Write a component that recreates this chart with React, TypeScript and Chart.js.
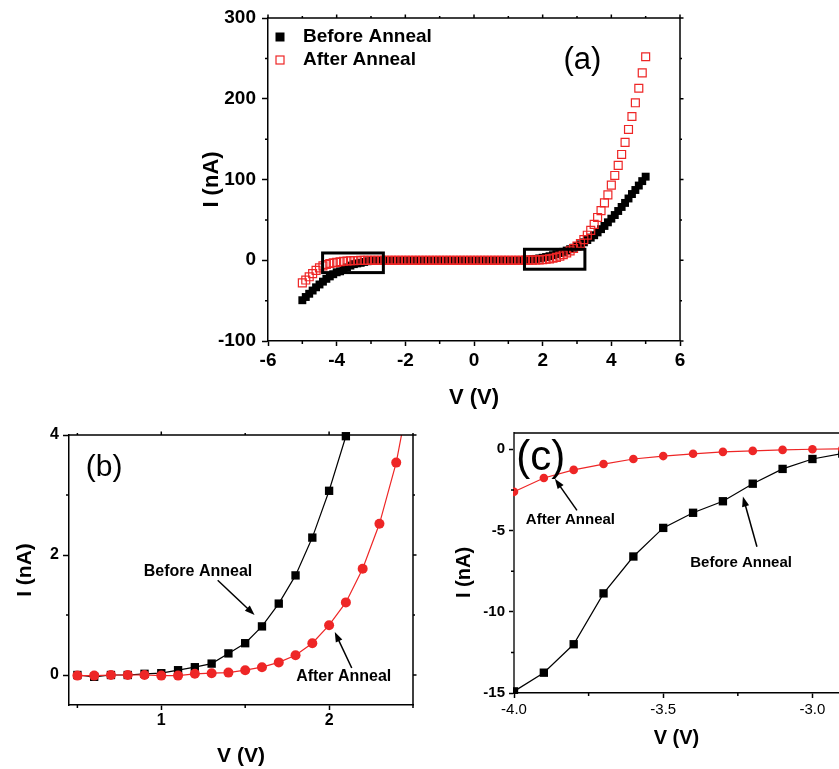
import React, { useEffect, useRef } from "react";
import { Chart, registerables } from "chart.js";

Chart.register(...registerables);

const FONT = "'Liberation Sans', Arial, Helvetica, sans-serif";
const RED = "#ee2626";

// ---------- Panel (a): full sweep ----------
const voltageA = [
  -5.0, -4.9, -4.8, -4.7, -4.6, -4.5, -4.4, -4.3, -4.2, -4.1,
  -4.0, -3.9, -3.8, -3.7, -3.6, -3.5, -3.4, -3.3, -3.2, -3.1,
  -3.0, -2.9, -2.8, -2.7, -2.6, -2.5, -2.4, -2.3, -2.2, -2.1,
  -2.0, -1.9, -1.8, -1.7, -1.6, -1.5, -1.4, -1.3, -1.2, -1.1,
  -1.0, -0.9, -0.8, -0.7, -0.6, -0.5, -0.4, -0.3, -0.2, -0.1,
  0.0, 0.1, 0.2, 0.3, 0.4, 0.5, 0.6, 0.7, 0.8, 0.9,
  1.0, 1.1, 1.2, 1.3, 1.4, 1.5, 1.6, 1.7, 1.8, 1.9,
  2.0, 2.1, 2.2, 2.3, 2.4, 2.5, 2.6, 2.7, 2.8, 2.9,
  3.0, 3.1, 3.2, 3.3, 3.4, 3.5, 3.6, 3.7, 3.8, 3.9,
  4.0, 4.1, 4.2, 4.3, 4.4, 4.5, 4.6, 4.7, 4.8, 4.9,
  5.0,
];
const beforeA = [
  -49.5, -45.5, -41.5, -37.5, -33.5, -30.0, -26.5, -23.0, -20.0, -17.3,
  -14.9, -13.7, -12.0, -8.9, -6.6, -4.8, -3.9, -3.2, -2.1, -1.2,
  -0.6, -0.3, -0.2, -0.15, -0.12, -0.1, -0.08, -0.07, -0.06, -0.05,
  -0.05, -0.04, -0.04, -0.03, -0.03, -0.03, -0.02, -0.02, -0.02, -0.02,
  -0.01, -0.01, -0.01, -0.01, -0.01, -0.01, 0, 0, 0, 0,
  0, 0, 0, 0, 0.01, 0, -0.03, 0, 0, 0.02,
  0.03, 0.08, 0.13, 0.19, 0.36, 0.53, 0.81, 1.19, 1.66, 2.29,
  3.07, 3.98, 5.0, 6.2, 7.5, 8.9, 10.4, 12.0, 13.7, 15.5,
  17.5, 19.7, 22.2, 25.0, 28.0, 31.0, 34.5, 38.5, 42.5, 47.0,
  51.5, 56.0, 61.0, 66.0, 71.0, 76.5, 82.0, 87.0, 92.5, 98.0,
  103.5,
];
const afterA = [
  -28.0, -24.5, -20.5, -16.5, -12.5, -9.5, -7.0, -5.2, -4.0, -3.2,
  -2.6, -1.8, -1.3, -0.9, -0.6, -0.4, -0.3, -0.16, -0.1, -0.04,
  0, 0.02, 0, 0, 0, 0, 0, 0, 0, 0,
  0, 0, 0, 0, 0, 0, 0, 0, 0, 0,
  0, 0, 0, 0, 0, 0, 0, 0, 0, 0,
  0, 0, 0, 0, 0, -0.01, -0.01, 0, 0, 0,
  -0.01, -0.01, 0.02, 0.03, 0.04, 0.08, 0.13, 0.21, 0.33, 0.53,
  0.83, 1.21, 1.77, 2.52, 3.54, 5.0, 6.8, 9.0, 11.6, 14.5,
  17.5, 20.8, 25.5, 31.0, 37.0, 44.5, 53.0, 61.5, 71.0, 81.0,
  93.0, 105.0, 117.5, 131.0, 146.0, 162.0, 178.0, 195.0, 213.0, 232.0,
  252.0,
];
const xTicksA = [-6, -4, -2, 0, 2, 4, 6];
const yTicksA = [-100, 0, 100, 200, 300];
const xMinorA = [-5, -3, -1, 1, 3, 5];
const yMinorA = [-50, 50, 150, 250];
const boxesA = [
  [-4.41, -2.64, -15.3, 9.0],
  [1.47, 3.23, -11.1, 13.6],
];
const legendA = ["Before Anneal", "After Anneal"];
const labelA = { text: "(a)", v: 3.16, i: 247.7 };

// ---------- Panel (b): forward bias zoom ----------
const voltageB = [0.5, 0.6, 0.7, 0.8, 0.9, 1.0, 1.1, 1.2, 1.3, 1.4, 1.5, 1.6, 1.7, 1.8, 1.9, 2.0, 2.1, 2.2, 2.3, 2.4, 2.5];
const beforeB = [0, -0.03, 0, 0, 0.02, 0.03, 0.08, 0.13, 0.19, 0.36, 0.53, 0.81, 1.19, 1.66, 2.29, 3.07, 3.98];
const afterB = [-0.01, -0.01, 0, 0, 0, -0.01, -0.01, 0.02, 0.03, 0.04, 0.08, 0.13, 0.21, 0.33, 0.53, 0.83, 1.21, 1.77, 2.52, 3.54, 5.0];
const xTicksB = [1, 2];
const yTicksB = [0, 2, 4];
const xMinorB = [0.5, 1.5, 2.5];
const yMinorB = [1, 3];
const textB = [
  { text: "Before Anneal", v: 1.219, i: 1.72 },
  { text: "After Anneal", v: 2.087, i: -0.03 },
];
const arrowsB = [
  [1.336, 1.58, 1.556, 1.0],
  [2.135, 0.117, 2.034, 0.717],
];
const labelB = { text: "(b)", v: 0.659, i: 3.45 };

// ---------- Panel (c): reverse bias zoom ----------
const voltageC = [-4.0, -3.9, -3.8, -3.7, -3.6, -3.5, -3.4, -3.3, -3.2, -3.1, -3.0, -2.9];
const beforeC = [-14.9, -13.75, -12.0, -8.87, -6.6, -4.84, -3.91, -3.2, -2.12, -1.21, -0.6, -0.26];
const afterC = [-2.62, -1.77, -1.27, -0.91, -0.6, -0.42, -0.28, -0.16, -0.1, -0.04, 0, 0.02];
const xTicksC = [-4.0, -3.5, -3.0];
const yTicksC = [0, -5, -10, -15];
const xMinorC = [-3.75, -3.25];
const yMinorC = [-2.5, -7.5, -12.5];
const textC = [
  { text: "After Anneal", v: -3.811, i: -4.36 },
  { text: "Before Anneal", v: -3.239, i: -6.97 },
];
const arrowsC = [
  [-3.789, -3.76, -3.863, -1.82],
  [-3.186, -6.0, -3.233, -2.91],
];
const labelC = { text: "(c)", v: -3.91, i: -0.54 };

// ---------- helpers ----------
const pts = (xs: number[], ys: number[]) => ys.map((y, k) => ({ x: xs[k], y }));
const fnt = (size: number, bold = true) => ({ family: FONT, size, weight: bold ? "bold" : "normal" });

function linAxis(p: any) {
  return {
    type: "linear",
    min: p.min,
    max: p.max,
    afterBuildTicks: (s: any) => {
      s.ticks = p.values.map((v: number) => ({ value: v }));
    },
    afterFit: (s: any) => {
      s[p.fitKey] = p.fit;
    },
    ticks: {
      font: p.font,
      color: "#000",
      padding: p.padding,
      autoSkip: false,
      maxRotation: 0,
      minRotation: 0,
      ...(p.callback ? { callback: p.callback } : {}),
    },
    grid: { drawOnChartArea: false, drawTicks: true, tickLength: p.tickLength, tickWidth: 1.5, tickColor: "#000" },
    border: { display: true, color: p.borderColor || "#000", width: p.borderWidth || 1.5 },
    title: p.title
      ? { display: true, text: p.title, color: "#000", font: fnt(p.titleSize), padding: p.titlePad }
      : { display: false },
  };
}

function arrow(ctx: any, x1: number, y1: number, x2: number, y2: number) {
  const len = 10, half = 3.6;
  const ang = Math.atan2(y2 - y1, x2 - x1);
  const c = Math.cos(ang), s = Math.sin(ang);
  ctx.beginPath();
  ctx.moveTo(x1, y1);
  ctx.lineTo(x2 - c * len * 0.7, y2 - s * len * 0.7);
  ctx.stroke();
  ctx.beginPath();
  ctx.moveTo(x2, y2);
  ctx.lineTo(x2 - len * c + half * s, y2 - len * s - half * c);
  ctx.lineTo(x2 - len * c - half * s, y2 - len * s + half * c);
  ctx.closePath();
  ctx.fill();
}

function decoPlugin(cfg: any) {
  return {
    id: "deco",
    afterDatasetsDraw(chart: any) {
      const { ctx, chartArea: a, scales } = chart;
      const xs = scales.x, ys = scales.y;
      ctx.save();
      ctx.strokeStyle = "#000";
      ctx.fillStyle = "#000";
      ctx.lineWidth = 1.5;
      ctx.beginPath();
      if (cfg.top) {
        ctx.moveTo(a.left, a.top);
        ctx.lineTo(a.right, a.top);
      }
      if (cfg.right) {
        ctx.moveTo(a.right, a.top);
        ctx.lineTo(a.right, a.bottom);
      }
      for (const v of cfg.minorX) {
        const p = xs.getPixelForValue(v);
        ctx.moveTo(p, a.bottom);
        ctx.lineTo(p, a.bottom + 3);
        if (cfg.topTicks) {
          ctx.moveTo(p, a.top);
          ctx.lineTo(p, a.top - 2);
        }
      }
      for (const v of cfg.minorY) {
        const p = ys.getPixelForValue(v);
        ctx.moveTo(a.left - 3, p);
        ctx.lineTo(a.left, p);
        if (cfg.rightTicks) {
          ctx.moveTo(a.right, p);
          ctx.lineTo(a.right + 2, p);
        }
      }
      if (cfg.topTicks) {
        for (const v of cfg.majorX) {
          const p = xs.getPixelForValue(v);
          ctx.moveTo(p, a.top);
          ctx.lineTo(p, a.top - 3.5);
        }
      }
      if (cfg.rightTicks) {
        for (const v of cfg.majorY) {
          const p = ys.getPixelForValue(v);
          ctx.moveTo(a.right, p);
          ctx.lineTo(a.right + 3.5, p);
        }
      }
      ctx.stroke();
      if (cfg.extra) cfg.extra(ctx, xs, ys, a);
      ctx.restore();
    },
  };
}

function drawNotes(ctx: any, xs: any, ys: any, notes: any[], arrows: number[][], size: number) {
  ctx.fillStyle = "#000";
  ctx.strokeStyle = "#000";
  ctx.font = `bold ${size}px ${FONT}`;
  ctx.textAlign = "center";
  ctx.textBaseline = "middle";
  for (const n of notes) ctx.fillText(n.text, xs.getPixelForValue(n.v), ys.getPixelForValue(n.i));
  ctx.lineWidth = 1.5;
  for (const [v1, i1, v2, i2] of arrows) {
    arrow(ctx, xs.getPixelForValue(v1), ys.getPixelForValue(i1), xs.getPixelForValue(v2), ys.getPixelForValue(i2));
  }
}

function configA(): any {
  return {
    type: "scatter",
    data: {
      datasets: [
        {
          label: legendA[1],
          data: pts(voltageA, afterA),
          showLine: false,
          pointStyle: "rect",
          pointRadius: 5.6,
          pointBackgroundColor: "rgba(0,0,0,0)",
          pointBorderColor: RED,
          pointBorderWidth: 1.2,
          order: 0,
        },
        {
          label: legendA[0],
          data: pts(voltageA, beforeA),
          showLine: false,
          pointStyle: "rect",
          pointRadius: 5.6,
          pointBackgroundColor: "#000",
          pointBorderColor: "#000",
          pointBorderWidth: 0,
          order: 1,
        },
      ],
    },
    options: {
      animation: false,
      responsive: false,
      events: [],
      layout: { autoPadding: false, padding: { left: 0, top: 18, right: 20, bottom: 0 } },
      plugins: { legend: { display: false }, tooltip: { enabled: false } },
      scales: {
        x: linAxis({
          min: -6, max: 6, values: xTicksA, fitKey: "height", fit: 79, font: fnt(19), tickLength: 5, padding: 3,
          title: "V (V)", titleSize: 22, titlePad: { top: 0, bottom: 8.8 },
        }),
        y: linAxis({
          min: -100, max: 300, values: yTicksA, fitKey: "width", fit: 268, font: fnt(19), tickLength: 6, padding: 6,
          title: "I (nA)", titleSize: 22, titlePad: { top: 198.8, bottom: 0 },
        }),
      },
    },
    plugins: [
      decoPlugin({
        top: true, right: true, topTicks: true, rightTicks: true,
        minorX: xMinorA, minorY: yMinorA, majorX: xTicksA, majorY: yTicksA,
        extra: (ctx: any, xs: any, ys: any, a: any) => {
          ctx.lineWidth = 3;
          ctx.strokeStyle = "#000";
          for (const [v0, v1, i0, i1] of boxesA) {
            const x0 = xs.getPixelForValue(v0), x1 = xs.getPixelForValue(v1);
            const y0 = ys.getPixelForValue(i1), y1 = ys.getPixelForValue(i0);
            ctx.strokeRect(x0, y0, x1 - x0, y1 - y0);
          }
          const lx = a.left + 12, ly = a.top + 19;
          ctx.fillStyle = "#000";
          ctx.fillRect(lx - 4.5, ly - 4.5, 9, 9);
          ctx.strokeStyle = RED;
          ctx.lineWidth = 1.2;
          ctx.strokeRect(lx - 4, ly + 23 - 4, 8, 8);
          ctx.font = `bold 19px ${FONT}`;
          ctx.textAlign = "left";
          ctx.textBaseline = "middle";
          ctx.fillText(legendA[0], a.left + 35, ly);
          ctx.fillText(legendA[1], a.left + 35, ly + 23);
          ctx.font = `31px ${FONT}`;
          ctx.textAlign = "center";
          ctx.fillText(labelA.text, xs.getPixelForValue(labelA.v), ys.getPixelForValue(labelA.i));
        },
      }),
    ],
  };
}

function configB(): any {
  return {
    type: "scatter",
    data: {
      datasets: [
        {
          label: "Before Anneal",
          data: pts(voltageB, beforeB),
          showLine: true,
          borderColor: "#000",
          borderWidth: 1.2,
          pointStyle: "rect",
          pointRadius: 5.9,
          pointBackgroundColor: "#000",
          pointBorderWidth: 0,
          clip: 5,
          order: 1,
        },
        {
          label: "After Anneal",
          data: pts(voltageB, afterB),
          showLine: true,
          borderColor: RED,
          borderWidth: 1.2,
          pointStyle: "circle",
          pointRadius: 5,
          pointBackgroundColor: RED,
          pointBorderWidth: 0,
          clip: 0,
          order: 0,
        },
      ],
    },
    options: {
      animation: false,
      responsive: false,
      events: [],
      layout: { autoPadding: false, padding: { left: 0, top: 15, right: 17, bottom: 0 } },
      plugins: { legend: { display: false }, tooltip: { enabled: false } },
      scales: {
        x: linAxis({
          min: 0.45, max: 2.5, values: xTicksB, fitKey: "height", fit: 64, font: fnt(16), tickLength: 5, padding: 1,
          title: "V (V)", titleSize: 21, titlePad: { top: 0, bottom: 0 },
        }),
        y: linAxis({
          min: -0.5, max: 4, values: yTicksB, fitKey: "width", fit: 69, font: fnt(16), tickLength: 6, padding: 4,
          title: "I (nA)", titleSize: 21, titlePad: { top: 12.4, bottom: 0 },
        }),
      },
    },
    plugins: [
      decoPlugin({
        top: true, right: true, topTicks: true, rightTicks: true,
        minorX: xMinorB, minorY: yMinorB, majorX: xTicksB, majorY: yTicksB,
        extra: (ctx: any, xs: any, ys: any) => {
          drawNotes(ctx, xs, ys, textB, arrowsB, 16);
          ctx.font = `30px ${FONT}`;
          ctx.textAlign = "center";
          ctx.fillText(labelB.text, xs.getPixelForValue(labelB.v), ys.getPixelForValue(labelB.i));
        },
      }),
    ],
  };
}

function configC(): any {
  return {
    type: "scatter",
    data: {
      datasets: [
        {
          label: "Before Anneal",
          data: pts(voltageC, beforeC),
          showLine: true,
          borderColor: "#000",
          borderWidth: 1.2,
          pointStyle: "rect",
          pointRadius: 5.9,
          pointBackgroundColor: "#000",
          pointBorderWidth: 0,
          clip: 1,
          order: 1,
        },
        {
          label: "After Anneal",
          data: pts(voltageC, afterC),
          showLine: true,
          borderColor: RED,
          borderWidth: 1.2,
          pointStyle: "circle",
          pointRadius: 4.3,
          pointBackgroundColor: RED,
          pointBorderWidth: 0,
          clip: 1,
          order: 0,
        },
      ],
    },
    options: {
      animation: false,
      responsive: false,
      events: [],
      layout: { autoPadding: false, padding: { left: 0, top: 8, right: 0, bottom: 0 } },
      plugins: { legend: { display: false }, tooltip: { enabled: false } },
      scales: {
        x: linAxis({
          min: -4.0, max: -2.911, values: xTicksC, fitKey: "height", fit: 76, font: fnt(15, false), tickLength: 5, padding: 3,
          callback: (v: any) => Number(v).toFixed(1),
          title: "V (V)", titleSize: 20, titlePad: { top: 0, bottom: 19 },
        }),
        y: linAxis({
          min: -15, max: 1, values: yTicksC, fitKey: "width", fit: 74, font: fnt(15), tickLength: 5, padding: 4,
          borderColor: "#555", borderWidth: 2,
        }),
      },
    },
    plugins: [
      decoPlugin({
        top: true, right: false, topTicks: false, rightTicks: false,
        minorX: xMinorC, minorY: yMinorC, majorX: xTicksC, majorY: yTicksC,
        extra: (ctx: any, xs: any, ys: any) => {
          drawNotes(ctx, xs, ys, textC, arrowsC, 15);
          ctx.font = `42px ${FONT}`;
          ctx.textAlign = "center";
          ctx.textBaseline = "middle";
          ctx.fillText(labelC.text, xs.getPixelForValue(labelC.v), ys.getPixelForValue(labelC.i));
          ctx.save();
          ctx.translate(24, 152.5);
          ctx.rotate(-Math.PI / 2);
          ctx.font = `bold 20px ${FONT}`;
          ctx.fillText("I (nA)", 0, 0);
          ctx.restore();
        },
      }),
    ],
  };
}

export default function App() {
  const refA = useRef<HTMLCanvasElement>(null);
  const refB = useRef<HTMLCanvasElement>(null);
  const refC = useRef<HTMLCanvasElement>(null);

  useEffect(() => {
    const charts = [
      new Chart(refA.current as HTMLCanvasElement, configA()),
      new Chart(refB.current as HTMLCanvasElement, configB()),
      new Chart(refC.current as HTMLCanvasElement, configC()),
    ];
    return () => charts.forEach((c) => c.destroy());
  }, []);

  return (
    <div style={{ position: "absolute", left: 0, top: 0, width: 839, height: 769, overflow: "hidden", background: "#fff" }}>
      <canvas ref={refA} width={700} height={420} style={{ position: "absolute", left: 0, top: 0 }} />
      <canvas ref={refB} width={430} height={349} style={{ position: "absolute", left: 0, top: 420 }} />
      <canvas ref={refC} width={399} height={349} style={{ position: "absolute", left: 440, top: 420 }} />
    </div>
  );
}
